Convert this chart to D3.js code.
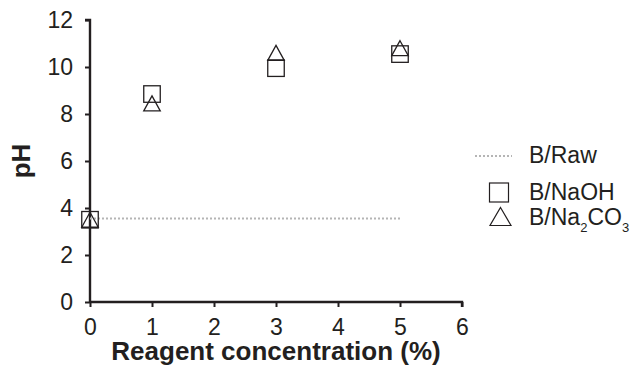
<!DOCTYPE html>
<html>
<head>
<meta charset="utf-8">
<script src="https://cdn.jsdelivr.net/npm/d3@7"></script>
<style>
  body { margin: 0; background: #fff; }
  text { font-family: "Liberation Sans", Arial, sans-serif; fill: #231f20; }
</style>
</head>
<body>
<div id="vis"></div>
<script>
var concentrations = [0, 1, 3, 5];
var rawX = [0, 5];
var rawPH = [3.55, 3.55];
var naohPH = [3.5, 8.85, 9.95, 10.55];
var na2co3PH = [3.5, 8.45, 10.6, 10.8];
var xTicks = [0, 1, 2, 3, 4, 5, 6];
var yTicks = [0, 2, 4, 6, 8, 10, 12];

var width = 633, height = 371;
var margin = { left: 90, top: 20, right: 171, bottom: 69 };

var svg = d3.select('#vis').append('svg')
  .attr('width', width)
  .attr('height', height);

var x = d3.scaleLinear().domain([0, 6]).range([margin.left, width - margin.right]);
var y = d3.scaleLinear().domain([0, 12]).range([height - margin.bottom, margin.top]);

// axes
var xAxis = svg.append('g')
  .attr('transform', 'translate(0,' + y(0) + ')')
  .call(d3.axisBottom(x).tickValues(xTicks).tickSize(5).tickPadding(12).tickFormat(d3.format('d')));
var yAxis = svg.append('g')
  .attr('transform', 'translate(' + x(0) + ',0)')
  .call(d3.axisLeft(y).tickValues(yTicks).tickSize(5).tickPadding(12).tickFormat(d3.format('d')));

[xAxis, yAxis].forEach(function (g) {
  g.attr('font-size', null).attr('font-family', null);
  g.select('.domain').attr('stroke', '#231f20').attr('stroke-width', 2.4);
  g.selectAll('.tick line').attr('stroke', '#231f20').attr('stroke-width', 2);
  g.selectAll('.tick text').attr('font-size', 23).style('font-size', '23px').attr('fill', '#231f20');
});
xAxis.select('.domain').attr('d', 'M' + x(0) + ',0H' + x(6) + 'V5');
yAxis.select('.domain').attr('d', 'M-5,' + y(12) + 'H0V' + y(0));

// raw baseline
svg.append('line')
  .attr('x1', x(rawX[0])).attr('x2', x(rawX[1]))
  .attr('y1', y(rawPH[0])).attr('y2', y(rawPH[1]))
  .attr('stroke', '#b5b5b5').attr('stroke-width', 2)
  .attr('stroke-dasharray', '2,2');

var sq = 16.5, triW = 16.5, triH = 15;
function triPath(cx, cy, w, h) {
  return 'M' + cx + ',' + (cy - h / 2) + 'L' + (cx + w / 2) + ',' + (cy + h / 2) +
    'L' + (cx - w / 2) + ',' + (cy + h / 2) + 'Z';
}

svg.selectAll('.sq').data(concentrations).enter().append('rect')
  .attr('class', 'sq')
  .attr('x', function (d) { return x(d) - sq / 2; })
  .attr('y', function (d, i) { return y(naohPH[i]) - sq / 2; })
  .attr('width', sq).attr('height', sq)
  .attr('fill', 'none').attr('stroke', '#231f20').attr('stroke-width', 1.3);

svg.selectAll('.tri').data(concentrations).enter().append('path')
  .attr('class', 'tri')
  .attr('d', function (d, i) { return triPath(x(d), y(na2co3PH[i]), triW, triH); })
  .attr('fill', 'none').attr('stroke', '#231f20').attr('stroke-width', 1.3);

// axis titles
svg.append('text')
  .attr('x', x(3)).attr('y', 360)
  .attr('text-anchor', 'middle')
  .style('font-size', '26px').style('font-weight', 'bold')
  .text('Reagent concentration (%)');
svg.append('text')
  .attr('transform', 'translate(30,' + y(6) + ') rotate(-90)')
  .attr('text-anchor', 'middle')
  .style('font-size', '26px').style('font-weight', 'bold')
  .text('pH');

// legend
var lg = svg.append('g');
lg.append('line')
  .attr('x1', 475).attr('x2', 512).attr('y1', 156).attr('y2', 156)
  .attr('stroke', '#b5b5b5').attr('stroke-width', 2).attr('stroke-dasharray', '2,2');
lg.append('text').attr('x', 529).attr('y', 163).style('font-size', '23px').text('B/Raw');
lg.append('rect').attr('x', 489.5).attr('y', 183).attr('width', 19).attr('height', 19)
  .attr('fill', 'none').attr('stroke', '#231f20').attr('stroke-width', 1.2);
lg.append('text').attr('x', 529).attr('y', 200).style('font-size', '23px').text('B/NaOH');
lg.append('path')
  .attr('d', triPath(500.5, 216.5, 21, 18))
  .attr('fill', 'none').attr('stroke', '#231f20').attr('stroke-width', 1.2);
var t3 = lg.append('text').attr('x', 529).attr('y', 225).style('font-size', '23px');
t3.append('tspan').text('B/Na');
t3.append('tspan').attr('dy', 7).style('font-size', '13px').text('2');
t3.append('tspan').attr('dy', -7).text('CO');
t3.append('tspan').attr('dy', 7).style('font-size', '13px').text('3');
</script>
</body>
</html>
